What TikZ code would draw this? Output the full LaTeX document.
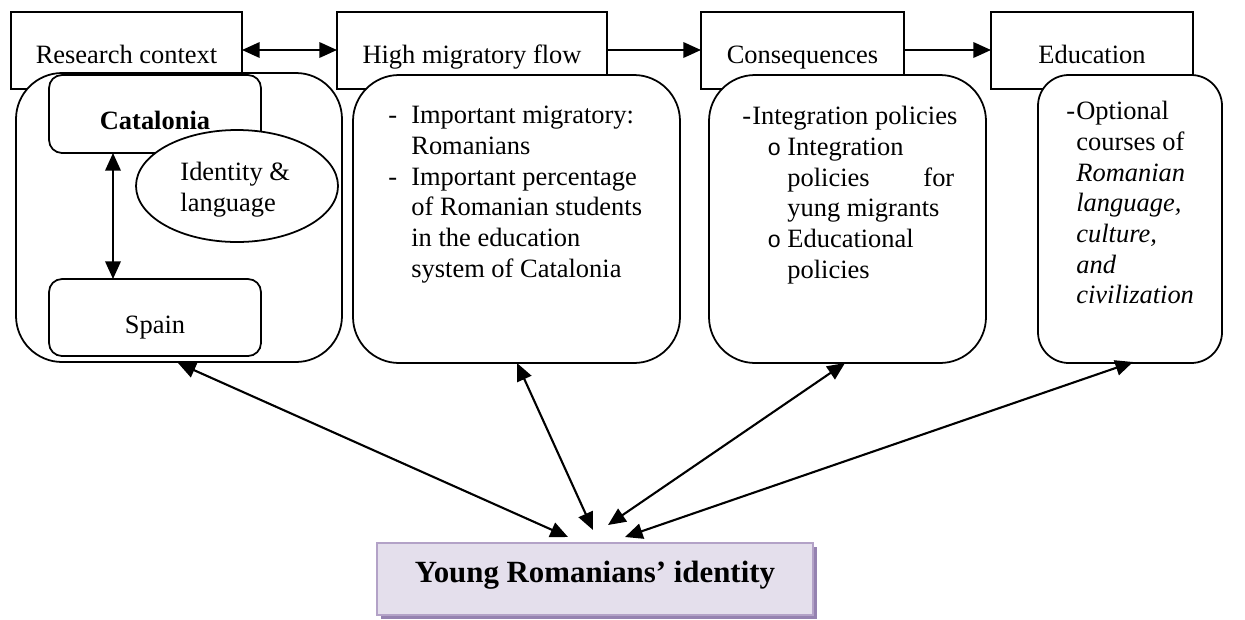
\documentclass[tikz,border=0pt]{standalone}
\usepackage{fontspec}
\setmainfont{Liberation Serif}
\newfontfamily\bulletfont{Liberation Mono}
\usetikzlibrary{arrows.meta}

\definecolor{idfill}{HTML}{E4DFEC}
\definecolor{idborder}{HTML}{B3A2C7}
\definecolor{idshadow}{HTML}{9582B0}

\tikzset{
  headbox/.style={draw, line width=0.5pt, fill=white},
  panel/.style={draw, line width=0.8pt, fill=white},
  bodytext/.style={anchor=north west, inner sep=0pt, align=left,
    font=\fontsize{12}{13.9}\selectfont},
  headtext/.style={anchor=base, inner sep=0pt, font=\fontsize{12}{14}\selectfont},
  link/.style={line width=0.95pt, {Triangle[length=8pt,width=7pt]}-{Triangle[length=8pt,width=7pt]}},
  flow/.style={line width=0.95pt, -{Triangle[length=8pt,width=7pt]}},
}
\newcommand{\listcircle}{{\fontsize{10.5}{12}\bulletfont o}}

\begin{document}
\begin{tikzpicture}[x=0.4536pt, y=-0.4536pt]
\useasboundingbox (0,0) rectangle (1245,619);

% header boxes of the four stages
\draw[headbox] (11,12) rectangle (242,89);
\draw[headbox] (337,12) rectangle (607,89);
\draw[headbox] (701,12) rectangle (904,89);
\draw[headbox] (991,12) rectangle (1193,89);
\node[headtext] (h1) at (126.5,63) {Research context};
\node[headtext] (h2) at (472,63) {High migratory flow};
\node[headtext] (h3) at (802.5,63) {Consequences};
\node[headtext] (h4) at (1092,63) {Education};
\coordinate (h1e) at (242,50);
\coordinate (h2w) at (337,50);
\coordinate (h2e) at (607,50);
\coordinate (h3w) at (701,50);
\coordinate (h3e) at (904,50);
\coordinate (h4w) at (991,50);

\draw[link] (h1e) -- (h2w);
\draw[flow] (h2e) -- (h3w);
\draw[flow] (h3e) -- (h4w);

% rounded panels under the headers
\draw[panel, rounded corners=20.9pt] (16,73) rectangle (342,362);
\draw[panel, rounded corners=20.9pt] (353,75) rectangle (680,363);
\draw[panel, rounded corners=20.9pt] (709,75) rectangle (986,363);
\draw[panel, rounded corners=14pt] (1038,75) rectangle (1222,363);
\coordinate (p1) at (178,363);
\coordinate (p2) at (517,363);
\coordinate (p3) at (845,363);
\coordinate (p4) at (1133,362);

% research context: Catalonia / Spain
\draw[panel, rounded corners=5.9pt] (49,75) rectangle (261,153);
\draw[panel, rounded corners=5.9pt] (49,279) rectangle (261,356);
\node[headtext, font=\fontsize{12}{14}\selectfont\bfseries] (cat) at (155,129) {Catalonia};
\node[headtext] (spa) at (155,333) {Spain};
\coordinate (catb) at (113,153);
\coordinate (spat) at (113,279);
\draw[link] (catb) -- (spat);
\draw[panel] (237,186) ellipse [x radius=101, y radius=56];
\node[bodytext] (idl) at (180,162) {Identity \&\\language};

% high migratory flow
\node[bodytext] (mig) at (388,106) {%
\makebox[10.4pt][l]{-}Important migratory:\\
\hspace*{10.4pt}Romanians\\
\makebox[10.4pt][l]{-}Important percentage\\
\hspace*{10.4pt}of Romanian students\\
\hspace*{10.4pt}in the education\\
\hspace*{10.4pt}system of Catalonia};

% consequences
\node[bodytext] (con) at (742,106) {%
\makebox[4.5pt][l]{-}Integration policies\\
\hspace*{11.3pt}\makebox[9.1pt][l]{\listcircle}Integration\\
\hspace*{20.4pt}\makebox[75.7pt][s]{policies for}\\
\hspace*{20.4pt}yung migrants\\
\hspace*{11.3pt}\makebox[9.1pt][l]{\listcircle}Educational\\
\hspace*{20.4pt}policies};

% education
\node[bodytext] (edu) at (1066,101) {%
\makebox[4.5pt][l]{-}Optional\\
\hspace*{4.5pt}courses of\\
\hspace*{4.5pt}\textit{Romanian}\\
\hspace*{4.5pt}\textit{language,}\\
\hspace*{4.5pt}\textit{culture,}\\
\hspace*{4.5pt}\textit{and}\\
\hspace*{4.5pt}\textit{civilization}};

% central identity box
\fill[idshadow] (381,547) rectangle (817,619);
\draw[idborder, line width=1pt, fill=idfill] (377,543) rectangle (813,615);
\node[headtext, font=\fontsize{14}{16}\selectfont\bfseries] (yr) at (595,582) {Young Romanians’ identity};
\coordinate (y1) at (568,537);
\coordinate (y2) at (593,530);
\coordinate (y3) at (608,525);
\coordinate (y4) at (625,537);

\draw[link] (p1) -- (y1);
\draw[link] (p2) -- (y2);
\draw[link] (p3) -- (y3);
\draw[link] (p4) -- (y4);
\end{tikzpicture}
\end{document}
